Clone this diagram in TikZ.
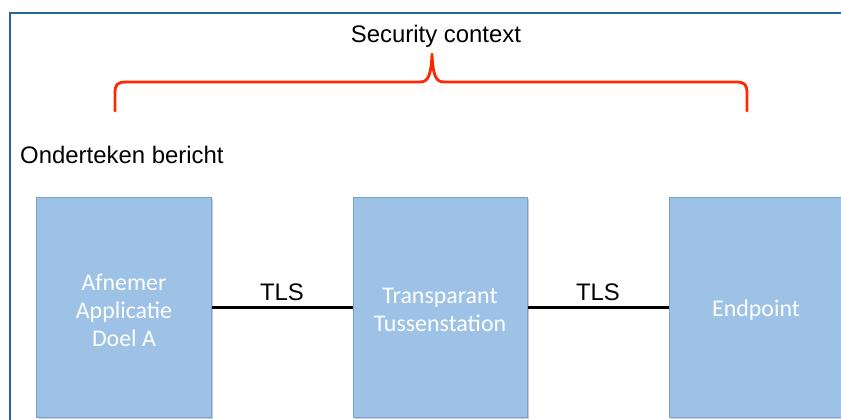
\documentclass[tikz,border=0pt]{standalone}
\usepackage{fontspec}
\setmainfont{Liberation Sans}
\newfontfamily\boxfont{Carlito}
\definecolor{frameblue}{RGB}{40,100,160}
\definecolor{boxfill}{RGB}{157,194,230}
\definecolor{boxline}{RGB}{122,161,206}
\definecolor{bracered}{RGB}{255,40,0}
\begin{document}
\begin{tikzpicture}[x=1bp,y=-1bp,
  boxtext/.style={text=white,font=\boxfont\fontsize{24}{28}\selectfont,align=center,inner sep=0pt,yshift=-3bp},
  blk/.style={draw=boxline,line width=1bp,fill=boxfill,minimum width=174bp,minimum height=220bp,
    inner sep=0pt},
  lbl/.style={font=\fontsize{24}{27}\selectfont,inner sep=0pt},
  conn/.style={line width=3bp,black},
  brace/.style={draw=bracered,line width=2.8bp,line cap=round,line join=round}]
\useasboundingbox (0,0) rectangle (841,419);
\clip (0,0) rectangle (841,419);
\fill[white] (0,0) rectangle (841,419);
\draw[frameblue,line width=2bp] (10,13) rectangle (860,440);
\node[lbl] (ctx) at (436,36) {Security context};
\node[lbl,anchor=west] (sign) at (20,155) {Onderteken bericht};
\draw[brace] (115,111) -- (115,94) .. controls (115,84) and (117,82) .. (127,82)
  -- (420,82) .. controls (428,82) and (431,76) .. (432,54)
  .. controls (433,76) and (436,82) .. (444,82)
  -- (735,82) .. controls (745,82) and (747,84) .. (747,94) -- (747,111);
\begin{scope}[shift={(2,2)}]
\fill[black!20] (37,197) rectangle (211,417);
\fill[black!20] (353,197) rectangle (527,417);
\fill[black!20] (669,197) rectangle (870,417);
\end{scope}
\node[blk,label={[boxtext]center:{Afnemer\\Applicatie\\Doel A}}] (a) at (124,307) {};
\node[blk,label={[boxtext]center:{Transparant\\Tussenstation}}] (b) at (440,307) {};
\node[blk,label={[boxtext]center:{Endpoint}}] (c) at (756,307) {};
\draw[conn] (a.east) -- node[lbl,above=5bp] {TLS} (b.west);
\draw[conn] (b.east) -- node[lbl,above=5bp] {TLS} (c.west);
\end{tikzpicture}
\end{document}
